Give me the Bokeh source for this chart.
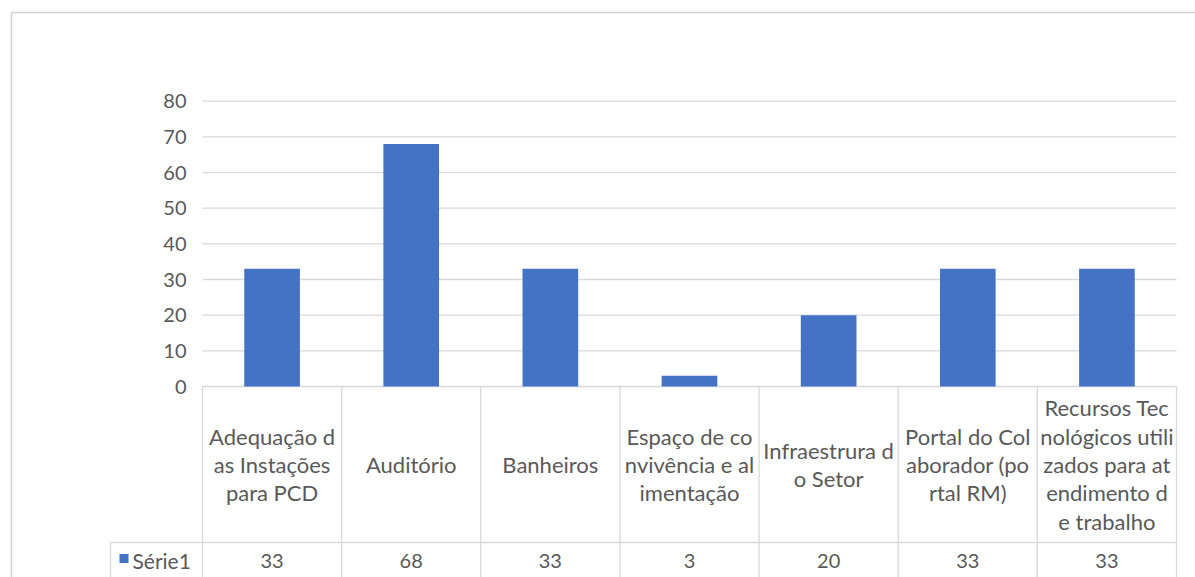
from bokeh.plotting import figure
from bokeh.models import Range1d, ColumnDataSource
from bokeh.core.properties import value
from bokeh.embed import file_html
from bokeh.resources import INLINE

# ---- data ----
category_labels = [
    "Adequação d\nas Instações\npara PCD",
    "Auditório",
    "Banheiros",
    "Espaço de co\nnvivência e al\nimentação",
    "Infraestrura d\no Setor",
    "Portal do Col\naborador (po\nrtal RM)",
    "Recursos Tec\nnológicos utili\nzados para at\nendimento d\ne trabalho",
]
serie1 = [33, 68, 33, 3, 20, 33, 33]
series_name = "Série1"
y_ticks = [0, 10, 20, 30, 40, 50, 60, 70, 80]

# ---- layout (pixels) ----
W, H = 1195, 577
PLOT_L, PLOT_R = 202, 1176      # left/right edge of the plot area and data table
ZERO_ROW, TOP_ROW = 386, 100.7  # pixel rows of the 0 and 80 gridlines
ROW_LINE = 542                  # line between category row and value row
TABLE_L = 110                   # left edge of the value row (legend cell)
BORDER_X, BORDER_Y = 11, 12     # chart-area border

n = len(category_labels)
cw = (PLOT_R - PLOT_L) / n
unit = (ZERO_ROW - TOP_ROW) / y_ticks[-1]


def xv(px):
    return (px - PLOT_L) / cw


def yv(px):
    return (ZERO_ROW - px) / unit


TEXT = "#595959"
GRID = "#D9D9D9"
BAR = "#4472C4"
FONT = value("Lato")

p = figure(
    width=W, height=H, output_backend="svg", toolbar_location=None,
    x_range=Range1d(xv(0), xv(W)), y_range=Range1d(yv(H), yv(0)),
    x_axis_location=None, y_axis_location=None, min_border=0,
)
p.outline_line_color = None
p.grid.visible = False
p.background_fill_color = "white"
p.border_fill_color = "white"

# chart-area border
p.segment(x0=[xv(BORDER_X), xv(BORDER_X)], y0=[yv(BORDER_Y), yv(BORDER_Y)],
          x1=[xv(W + 5), xv(BORDER_X)], y1=[yv(BORDER_Y), yv(H + 5)],
          line_color="#D0D0D0", line_width=1.5)

# horizontal gridlines
p.segment(x0=[0] * len(y_ticks), x1=[n] * len(y_ticks), y0=y_ticks, y1=y_ticks,
          line_color=GRID, line_width=1.3)

# bars
xs = [i + 0.5 for i in range(n)]
src = ColumnDataSource(dict(x=xs, top=serie1, label=category_labels,
                            val=[str(v) for v in serie1]))
p.vbar(x="x", top="top", bottom=0, width=0.4, source=src,
       fill_color=BAR, line_color=None)

# y tick labels
p.text(x=[xv(PLOT_L - 16)] * len(y_ticks), y=y_ticks, text=[str(t) for t in y_ticks],
       text_align="right", text_baseline="middle", text_font=FONT,
       text_font_size="20px", text_color=TEXT)

# data table grid
bottom = yv(H + 5)
p.segment(x0=list(range(n + 1)), x1=list(range(n + 1)),
          y0=[0] * (n + 1), y1=[bottom] * (n + 1), line_color=GRID, line_width=1.3)
p.segment(x0=[xv(TABLE_L), xv(TABLE_L)], y0=[yv(ROW_LINE), yv(ROW_LINE)],
          x1=[n, xv(TABLE_L)], y1=[yv(ROW_LINE), bottom],
          line_color=GRID, line_width=1.3)

# category labels (wrapped) and values
cat_y = yv((ZERO_ROW + ROW_LINE) / 2)
p.text(x="x", y=cat_y, text="label", source=src, text_align="center",
       text_baseline="middle", text_font=FONT, text_font_size="22px",
       text_color=TEXT, text_line_height=1.05)
val_y = yv(560)
p.text(x="x", y=val_y, text="val", source=src, text_align="center",
       text_baseline="middle", text_font=FONT, text_font_size="20px",
       text_color=TEXT)

# legend key for the series row
p.scatter(x=[xv(123.5)], y=[yv(558)], marker="square", size=9,
          fill_color=BAR, line_color=None)
p.text(x=[xv(132)], y=[val_y], text=[series_name], text_align="left",
       text_baseline="middle", text_font=FONT, text_font_size="21px",
       text_color=TEXT)

open("out.html", "w").write(file_html(p, INLINE))
